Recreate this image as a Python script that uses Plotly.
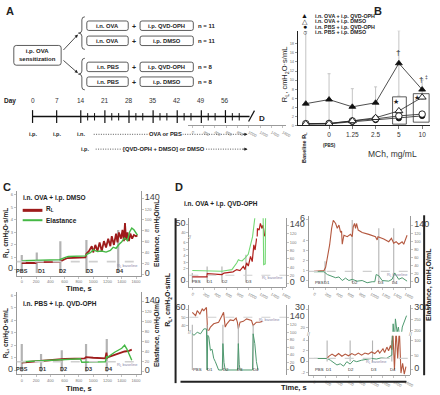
import plotly.graph_objects as go

W, H = 440, 395
FONT = "Arial, 'Liberation Sans', Helvetica, sans-serif"

# ---------------- Panel A data ----------------
group_left = ["i.n. OVA", "i.n. OVA", "i.n. PBS", "i.n. PBS"]
group_right = ["i.p. QVD-OPH", "i.p. DMSO", "i.p. QVD-OPH", "i.p. DMSO"]
group_n = ["n = 11", "n = 11", "n = 8", "n = 8"]
week_days = [0, 7, 14, 21, 28, 35, 42, 49, 56]
dose_days = [16, 18, 23, 25, 30, 32, 37, 39, 44, 46, 51, 53, 58, 60]
end_day = 63

# ---------------- Panel B data ----------------
mch_labels = ["Baseline", "0", "1.25", "2.5", "5", "10"]
ova_qvd = [4.8, 5.7, 4.1, 5.0, 13.7, 7.9]
ova_qvd_sd = [15.9, 5.7, 4.0, 3.5, 7.2, 2.1]
ova_dmso = [0.35, 0.4, 1.0, 1.7, 3.2, 6.2]
pbs_qvd = [0.3, 0.35, 0.8, 1.2, 1.6, 2.1]
pbs_dmso = [0.4, 0.45, 1.0, 1.45, 2.1, 2.5]
b_names = ["i.n. OVA + i.p. QVD-OPH", "i.n. OVA + i.p. DMSO",
           "i.n. PBS + i.p. QVD-OPH", "i.n. PBS + i.p. DMSO"]

dose_names = ["PBS", "D1", "D2", "D3", "D4"]

# ---------------- Panel C data ----------------
c1_t_rl = [0, 195, 205, 530, 600, 640, 890, 905, 940, 980, 1000, 1030, 1060, 1090, 1120, 1150, 1180, 1210,
           1240, 1260, 1290, 1320, 1340, 1360, 1390, 1410, 1430, 1445, 1460, 1480, 1500, 1520, 1545, 1570, 1600, 1620]
c1_rl = [0.55, 0.55, 0.62, 0.65, 0.85, 0.95, 1.0, 1.3, 1.5, 1.9, 1.4, 2.0, 1.5, 2.2, 1.5, 2.3, 1.8, 2.5,
         1.9, 2.7, 2.0, 2.9, 2.2, 3.0, 2.5, 3.2, 2.3, 3.75, 2.4, 3.0, 2.3, 2.9, 2.5, 2.8, 2.7, 2.75]
c1_t_el = [0, 195, 530, 600, 650, 890, 910, 960, 1000, 1060, 1120, 1180, 1240, 1280, 1320, 1360, 1400, 1440,
           1480, 1510, 1540, 1570, 1600, 1620]
c1_el = [25, 26, 27, 31, 33, 34, 37, 40, 45, 42, 43, 41, 44, 50, 48, 55, 60, 67, 62, 78, 85, 82, 75, 72]
c1_bar_t = [0, 210, 540, 905, 1350]
c1_bar_top = [1.2, 1.4, 2.3, 2.4, 3.2]
c1_baseline = 0.66
c1_label_t = [5, 270, 565, 955, 1375]

c2_t_rl = [0, 240, 260, 560, 600, 880, 900, 1000, 1100, 1170, 1185, 1195, 1210, 1280, 1350, 1440, 1500, 1540]
c2_rl = [0.62, 0.72, 0.78, 0.85, 0.9, 0.95, 1.05, 1.0, 0.98, 0.95, 1.4, 1.0, 1.05, 1.2, 1.35, 1.5, 1.55, 1.65]
c2_t_el = [0, 240, 560, 820, 840, 880, 1170, 1190, 1200, 1300, 1400, 1440, 1470, 1540]
c2_el = [19, 21, 24, 25, 18, 18, 19, 30, 28, 38, 46, 52, 45, 22]
c2_bar_t = [0, 270, 560, 900, 1190]
c2_bar_top = [2.1, 1.3, 1.6, 2.1, 2.5]
c2_baseline = 0.68
c2_label_t = [5, 290, 590, 930, 1215]

# ---------------- Panel D data ----------------
d1_t_rl = [0, 259, 265, 524, 560, 650, 720, 785, 843, 902, 930, 960, 990, 1030, 1060, 1088, 1110, 1134,
           1152, 1181, 1204, 1233, 1251, 1280]
d1_rl = [0.72, 0.72, 1.23, 1.08, 1.3, 1.4, 1.5, 1.85, 1.7, 2.35, 1.85, 2.9, 2.4, 3.9, 3.1, 5.7, 4.9, 6.5,
         45, 43, 50.8, 45, 48.9, 35.4]
d1_t_el = [0, 259, 524, 600, 700, 785, 815, 843, 880, 930, 989, 1030, 1065, 1105, 1134, 1250, 1262, 1290, 1297]
d1_el = [31.7, 30, 30, 32, 34, 50, 58, 56, 55, 62, 71, 94, 113, 158, 200, 200, 46, 48, 200]
d1_bar_t = [0, 262, 524, 948]
d1_bar_top = [1.3, 2.35, 2.35, 4.15]
d1_baseline = 0.97
d1_label_t = [70, 312, 573, 995]

d2_t_rl = [0, 175, 204, 234, 274, 309, 338, 379, 408, 437, 466, 483, 495, 524, 582, 640, 669, 687, 710, 728,
           745, 774, 844, 960, 1077, 1106, 1120, 1222, 1309, 1356, 1396, 1438, 1484, 1543, 1571, 1630]
d2_rl = [0.95, 1.02, 1.34, 2.25, 3.54, 5.17, 5.97, 5.65, 5.17, 5.49, 4.77, 4.9, 3.61, 4.5, 4.35, 4.58, 4.35,
         5.32, 5.65, 5.17, 5.65, 5.0, 4.77, 4.58, 4.35, 4.03, 4.35, 4.13, 3.86, 4.19, 3.71, 3.86, 3.61, 3.86,
         3.61, 4.5]
d2_t_el = [0, 175, 234, 320, 379, 437, 495, 553, 611, 669, 757, 844, 931, 1019, 1065, 1089, 1135, 1193, 1309,
           1367, 1414, 1443, 1484, 1543, 1630]
d2_el = [25, 25, 18, 14, 10, 12, 3, 9, 3, 6, 1.5, 3, -2.5, 0, 0, 18, 15, 3, 1.5, 6, 22, 15, 6, 10, 1.5]
d2_bar_t = [193, 669, 1135, 1396]
d2_bar_top = [1.94, 6.0, 5.17, 5.17]
d2_baseline = 0.95
d2_label_t = [100, 225, 715, 1165, 1418]

d3_t_rl = [0, 58, 87, 134, 175, 204, 250, 262, 273, 291, 320, 378, 465, 524, 553, 582, 611, 669, 727, 774,
           797, 814, 844, 902, 960, 1047, 1076, 1134, 1193, 1239]
d3_rl = [56, 52, 58, 54, 60, 58, 62, 40, 30, 34, 38, 42, 44, 52, 56, 38, 42, 46.7, 46, 49,
         44, 36, 44, 45, 48, 46, 40, 44, 44, 45]
d3_t_el = [0, 29, 87, 145, 204, 250, 262, 273, 291, 320, 349, 378, 407, 436, 465, 530, 541, 560, 582, 800,
           814, 830, 844, 1065, 1076, 1105, 1134, 1163]
d3_el = [96, 92, 100, 96, 109, 109, 0, 92, 88, 52, 55, 31, 22, 9, 0, 0, 70, 20, 0, 0,
         70, 15, 0, 0, 96, 70, 22, 0]
d3_bar_t = [0, 262, 541, 814, 1076]
d3_bar_top = [120, 120, 120, 120, 120]
d3_baseline = 50
d3_label_t = [90, 311, 588, 852, 1125]

d4_t_rl = [0, 230, 259, 316, 374, 431, 489, 547, 604, 662, 719, 777, 834, 892, 949, 1007, 1064, 1122, 1151,
           1208, 1237, 1277, 1306, 1340, 1363, 1380, 1409, 1437, 1466, 1495, 1523, 1552, 1581, 1610]
d4_rl = [0.6, 0.6, 1.0, 1.4, 1.0, 1.5, 1.0, 1.4, 1.1, 1.5, 1.2, 1.6, 1.2, 1.6, 1.4, 1.8, 1.5, 2.1, 1.6,
         2.4, 1.7, 2.7, 2.0, 3.0, 2.2, 6, -1.5, 6, 0.6, 6, -2.1, -0.3, -2.3, -0.9]
d4_t_el = [0, 230, 287, 345, 402, 460, 518, 575, 633, 690, 748, 834, 921, 1007, 1093, 1180, 1266, 1323, 1363,
           1386, 1409, 1426, 1455, 1478, 1512, 1546, 1581, 1621]
d4_el = [39, 39, 33, 25, 17, 21, 13, 28, 20, 32, 28, 33, 36, 39, 37, 41, 39, 45, 50,
         231, 150, 254, 192, 216, 140, 216, 239, 269]
d4_bar_t = [230, 633, 1025, 1363]
d4_bar_top = [3.9, 3.9, 3.9, 3.9]
d4_baseline = 0.6
d4_label_t = [100, 268, 655, 1043, 1386]

time_ticks = [0, 200, 400, 600, 800, 1000, 1200, 1400, 1600]

# ---------------- colours ----------------
RED_C, GREEN_C = "#9e1b1b", "#45b845"
RED_D1, GREEN_D1 = "#b0201c", "#74d874"
RED_D, GREEN_D = "#b4583f", "#4f9a70"
BAR = "#b3b3b3"
BASE = "#cfcfcf"
AXC = "#9a9a9a"


def X(p):
    return p / W


def Y(p):
    return 1 - p / H


def dxm(a, b):
    return [a / W, b / W]


def dym(top, bottom):
    return [1 - bottom / H, 1 - top / H]


fig = go.Figure()
shapes = []
ann = []


def A(text, x, y, size=6, xref="paper", yref="paper", color="#222", bold=False,
      xanchor="center", yanchor="middle", angle=0, bg=None):
    if bold:
        text = f"<b>{text}</b>"
    d = dict(text=text, x=x, y=y, xref=xref, yref=yref, showarrow=False,
             font=dict(size=size, color=color, family=FONT),
             xanchor=xanchor, yanchor=yanchor, textangle=angle, borderpad=0)
    if bg:
        d["bgcolor"] = bg
    ann.append(d)


def line(x, y, xa, ya, color, width, dash=None):
    fig.add_trace(go.Scatter(x=x, y=y, xaxis=xa, yaxis=ya, mode="lines",
                             line=dict(color=color, width=width, dash=dash),
                             showlegend=False, hoverinfo="skip", connectgaps=False))


def bars(ts, tops, bottom, xa, ya, width, color=BAR):
    xs, ys = [], []
    for t, tp in zip(ts, tops):
        xs += [t, t, None]
        ys += [bottom, tp, None]
    line(xs, ys, xa, ya, color, width)


def pline(x0, y0, x1, y1, color="#222", width=1, dash=None):
    shapes.append(dict(type="line", xref="paper", yref="paper", x0=X(x0), y0=Y(y0), x1=X(x1), y1=Y(y1),
                       line=dict(color=color, width=width, dash=dash)))


def rrect(x0, y0, x1, y1, r=2.5):
    def P(x, y):
        return f"{X(x):.5f},{Y(y):.5f}"
    path = (f"M {P(x0 + r, y0)} L {P(x1 - r, y0)} Q {P(x1, y0)} {P(x1, y0 + r)} L {P(x1, y1 - r)} "
            f"Q {P(x1, y1)} {P(x1 - r, y1)} L {P(x0 + r, y1)} Q {P(x0, y1)} {P(x0, y1 - r)} "
            f"L {P(x0, y0 + r)} Q {P(x0, y0)} {P(x0 + r, y0)} Z")
    shapes.append(dict(type="path", xref="paper", yref="paper", path=path,
                       line=dict(color="#333", width=0.8)))


def brace(x, ytop, ybot, tip=3.5):
    def P(a, b):
        return f"{X(a):.5f},{Y(b):.5f}"
    ym = (ytop + ybot) / 2
    path = (f"M {P(x + 3, ytop)} Q {P(x, ytop)} {P(x, ytop + 3)} L {P(x, ym - 3)} "
            f"Q {P(x, ym)} {P(x - tip, ym)} Q {P(x, ym)} {P(x, ym + 3)} L {P(x, ybot - 3)} "
            f"Q {P(x, ybot)} {P(x + 3, ybot)}")
    shapes.append(dict(type="path", xref="paper", yref="paper", path=path,
                       line=dict(color="#333", width=0.8)))


def arrow(x0, y0, x1, y1, width=0.8):
    ann.append(dict(x=X(x1), y=Y(y1), ax=x0 - x1, ay=y0 - y1, xref="paper", yref="paper",
                    axref="pixel", ayref="pixel", showarrow=True, arrowhead=2, arrowsize=0.8,
                    arrowwidth=width, arrowcolor="#222", text=" ", font=dict(size=1)))


def tt(vals, big=()):
    out = []
    for v in vals:
        s = str(v)
        if v in big:
            out.append(f'<span style="font-size:9px;color:#444">{s}</span>')
        else:
            out.append(s)
    return out


AXS = dict(showgrid=False, zeroline=False, showline=True, linecolor=AXC, linewidth=1,
           ticks="outside", ticklen=2, tickwidth=0.6, tickcolor=AXC,
           tickfont=dict(size=4, color="#777", family=FONT), fixedrange=True)

layout_axes = {}

# ================= Panel A =================
A("A", X(5), Y(8), size=11, bold=True, xanchor="left")
rrect(14, 43, 62, 63)
A("i.p. OVA<br>sensitization", X(38), Y(53), size=6, bold=True)
rows_y = [23, 38.3, 64.7, 79.7]
for yy, gl, gr, gn in zip(rows_y, group_left, group_right, group_n):
    rrect(88, yy - 4.8, 130, yy + 4.8, r=2)
    rrect(142, yy - 4.8, 196, yy + 4.8, r=2)
    A(gl, X(109), Y(yy), size=5.8, bold=True)
    A(gr, X(169), Y(yy), size=5.8, bold=True)
    A("+", X(136), Y(yy + 0.5), size=7, bold=True)
    A(gn, X(200), Y(yy), size=6, bold=True, xanchor="left")
brace(83, 14, 47)
brace(83, 56, 88)
arrow(63, 49, 79, 32)
arrow(63, 57, 79, 71)

# timeline on a day axis
layout_axes["xaxis2"] = dict(domain=[0, 1], range=[-9.45, 116.55], visible=False, anchor="y2", fixedrange=True)
layout_axes["yaxis2"] = dict(domain=[0, 1], range=[395, 0], visible=False, anchor="x2", fixedrange=True)
line([week_days[0], end_day], [115, 115], "x2", "y2", "#111", 1.4)
mx, my = [], []
for d in week_days:
    mx += [d, d, None]
    my += [108.5, 121.5, None]
line(mx, my, "x2", "y2", "#111", 1.2)
nx, ny = [], []
for d in dose_days:
    nx += [d, d, None]
    ny += [111.5, 119, None]
line(nx, ny, "x2", "y2", "#111", 1.0)
for d in week_days:
    A(str(d), d, Y(99), size=6.5, xref="x2", color="#333")
A("Day", X(10), Y(99), size=6.5, bold=True)
pline(252, 120, 258, 109, "#111", 1.2)
A("D", X(266), Y(117), size=8, bold=True)
A("i.p.", 0, Y(133), size=5.5, xref="x2", bold=True)
A("i.p.", 7, Y(133), size=5.5, xref="x2", bold=True)
A("i.n.", 14, Y(133), size=5.5, xref="x2", bold=True)
DOTS = "1px,1.4px"
pline(95, 133, 249, 133, "#333", 0.8, DOTS)
arrow(245, 133, 251, 133)
A("OVA or PBS", X(168), Y(133), size=5.8, bold=True, bg="white")
A("i.p.", X(86), Y(148), size=5.5, bold=True)
pline(97, 148, 249, 148, "#333", 0.8, DOTS)
arrow(245, 148, 251, 148)
A("[QVD-OPH + DMSO] or DMSO", X(166), Y(148), size=5.8, bold=True, bg="white")

# ================= Panel B =================
bx = list(range(len(mch_labels)))
layout_axes["xaxis"] = dict(AXS, domain=dxm(302, 436), range=[-0.34, 5.34], anchor="y",
                            linecolor="#222", tickcolor="#222", ticklen=2.5,
                            tickvals=bx[1:], ticktext=mch_labels[1:],
                            tickfont=dict(size=6.5, color="#333", family=FONT))
layout_axes["yaxis"] = dict(AXS, domain=dym(28, 124), range=[0, 20.9], anchor="x",
                            linecolor="#222", tickcolor="#555", tickvals=[0, 2, 4, 6, 8, 10, 12, 14, 16, 18],
                            tickfont=dict(size=4, color="#777"))
err_minus = [min(s, v - 0.2) for s, v in zip(ova_qvd_sd, ova_qvd)]
fig.add_trace(go.Scatter(x=bx, y=ova_qvd, mode="markers", marker=dict(size=1, color="rgba(0,0,0,0)"),
                         error_y=dict(type="data", symmetric=False, array=ova_qvd_sd, arrayminus=err_minus,
                                      color="#c4c4c4", thickness=1, width=1.5),
                         showlegend=False, hoverinfo="skip"))
series_b = [
    (pbs_qvd, dict(symbol="circle", size=5.5, color="#111", line=dict(color="#111", width=0.8))),
    (pbs_dmso, dict(symbol="circle", size=6.5, color="white", line=dict(color="#111", width=0.9))),
    (ova_dmso, dict(symbol="triangle-up", size=7, color="white", line=dict(color="#111", width=0.9))),
    (ova_qvd, dict(symbol="triangle-up", size=6, color="#111", line=dict(color="#111", width=0.8))),
]
for vals, mk in series_b:
    fig.add_trace(go.Scatter(x=bx, y=vals, mode="lines+markers", line=dict(color="#222", width=0.8),
                             marker=mk, showlegend=False, hoverinfo="skip"))
shapes.append(dict(type="rect", xref="x", yref="y", x0=3.73, x1=4.32, y0=0.28, y1=6.3,
                   line=dict(color="#333", width=0.8)))
shapes.append(dict(type="rect", xref="x", yref="y", x0=4.62, x1=5.3, y0=0.72, y1=7.0,
                   line=dict(color="#333", width=0.8)))
A("★", 3.86, 5.2, size=7, xref="x", yref="y", color="#222")
A("★", 4.78, 6.15, size=7, xref="x", yref="y", color="#222")
A("†", 3.98, 16.1, size=8, xref="x", yref="y", color="#222")
A("†", 4.94, 10.2, size=8, xref="x", yref="y", color="#222")
A("‡", 5.17, 10.7, size=5, xref="x", yref="y", color="#222")
A("B", X(383), Y(8), size=11, bold=True)
leg_sym = ["▲", "△", "●", "○"]
for i, (s, nm) in enumerate(zip(leg_sym, b_names)):
    yy = 12.7 + i * 5.6
    A(s, X(309), Y(yy), size=7, color="#111")
    A(nm, X(318), Y(yy), size=5.3, bold=True, xanchor="left")
A("R<sub>L</sub>, cmH<sub>2</sub>O·s/mL", X(289), Y(73), size=7.5, angle=-90, color="#222")
A("Baseline R<sub>L</sub>", X(308), Y(146), size=5.5, angle=-90, bold=True)
A("(PBS)", 1, Y(144), size=4.5, xref="x", bold=True)
A("MCh, mg/mL", X(398), Y(153), size=8.5, color="#333")

# ================= Panel C =================
A("C", X(7), Y(186), size=11, bold=True)
big_el = [0, 140]
el_ticks = [0, 20, 40, 60, 80, 100, 120, 140]
rl_ticks6 = [0, 1, 2, 3, 4, 5, 6]


def c_panel(xa, yl, yr, top, bottom, rl_rng, el_rng, t_rl, rl, t_el, el, bar_t, bar_top, base,
            label_t, label_y, base_lab_y, title, title_y, time_y):
    layout_axes["xaxis" + xa[1:]] = dict(AXS, domain=dxm(17, 143), range=[-70, 1670], anchor=yl,
                                         tickvals=time_ticks)
    layout_axes["yaxis" + yl[1:]] = dict(AXS, domain=dym(top, bottom), range=rl_rng, anchor=xa,
                                         tickvals=rl_ticks6, ticktext=tt(rl_ticks6, (0,)))
    layout_axes["yaxis" + yr[1:]] = dict(AXS, overlaying=yl, side="right", range=el_rng, anchor=xa,
                                         tickvals=el_ticks, ticktext=tt(el_ticks, big_el))
    shapes.append(dict(type="line", xref=xa + " domain", yref=yl, x0=0, x1=1, y0=base, y1=base,
                       line=dict(color=BASE, width=1.6, dash="dash")))
    bars(bar_t, bar_top, rl_rng[0] + 0.2, xa, yl, 2.2)
    line(t_el, el, xa, yr, GREEN_C, 1.4)
    line(t_rl, rl, xa, yl, RED_C, 1.8)
    for t, nm in zip(label_t, dose_names):
        A(nm, t, label_y, size=5.5, xref=xa, yref=yl, color="#333", bold=True)
    A("R<sub>L</sub> baseline", 1640, base_lab_y, size=4, xref=xa, yref=yl, color="#8a8aa8",
      xanchor="right")
    A(title, X(22), Y(title_y), size=6.5, bold=True, xanchor="left")
    A("Time, s", X(80), Y(time_y), size=7.5, bold=True)
    mid = (top + bottom) / 2
    A("R<sub>L</sub>, cmH<sub>2</sub>O·s/mL", X(6), Y(mid), size=6.5, bold=True, angle=-90)
    A("Elastance, cmH<sub>2</sub>O/mL", X(159), Y(mid), size=6.5, bold=True, angle=-90)


c_panel("x3", "y3", "y4", 190, 276, [-0.45, 6.35], [-2, 154], c1_t_rl, c1_rl, c1_t_el, c1_el,
        c1_bar_t, c1_bar_top, c1_baseline, c1_label_t, -0.05, 0.35, "i.n. OVA + i.p. DMSO", 197, 289)
c_panel("x4", "y5", "y6", 293, 376, [-0.32, 6.24], [-6, 158], c2_t_rl, c2_rl, c2_t_el, c2_el,
        c2_bar_t, c2_bar_top, c2_baseline, c2_label_t, 0.12, 0.45, "i.n. PBS + i.p. QVD-OPH", 305, 390)
# legend C
pline(23, 210, 43, 210, RED_C, 3)
A("R<sub>L</sub>", X(46), Y(209), size=6.5, bold=True, xanchor="left")
pline(23, 220, 43, 220, GREEN_C, 2)
A("Elastance", X(46), Y(220), size=6.5, bold=True, xanchor="left")

# ================= Panel D =================
A("D", X(181), Y(186), size=11, bold=True)
A("i.n. OVA + i.p. QVD-OPH", X(186), Y(203.5), size=6.5, bold=True, xanchor="left")
pline(178, 218, 178, 385, "#222", 2)
pline(430, 215, 430, 377, "#222", 2)
pline(183, 383.5, 412, 383.5, "#222", 2)
A("R<sub>L</sub>, cmH<sub>2</sub>O·s/mL", X(171), Y(300), size=7, bold=True, angle=-90)
A("Elastance, cmH<sub>2</sub>O/mL", X(435.5), Y(285), size=7, bold=True, angle=-90)
A("Time, s", X(298), Y(389), size=7.5, bold=True)

LEFT_X = dxm(192, 290)
RIGHT_X = dxm(313, 416)
XR_L = [-52, 1658]
XR_R = [-92, 1687]


def brk(px_, py_):
    A("//", X(px_), Y(py_), size=5, color="#777")


# D1 (top-left)
layout_axes["xaxis5"] = dict(AXS, domain=LEFT_X, range=XR_L, anchor="y7", tickvals=time_ticks)
layout_axes["yaxis7"] = dict(AXS, domain=dym(238.5, 288), range=[-0.92, 6.7], anchor="x5",
                             tickvals=[0, 2, 3, 4, 5, 6], ticktext=tt([0, 2, 3, 4, 5, 6], (0,)))
layout_axes["yaxis8"] = dict(AXS, domain=dym(218, 236.5), range=[35.6, 56.9], anchor="x5",
                             tickvals=[40, 50], ticktext=tt([40, 50], (50,)))
layout_axes["yaxis9"] = dict(AXS, domain=dym(218, 288), range=[-8.8, 158], anchor="x5", side="right",
                             tickvals=el_ticks, ticktext=tt(el_ticks, big_el))
shapes.append(dict(type="line", xref="x5 domain", yref="y7", x0=0, x1=1, y0=d1_baseline, y1=d1_baseline,
                   line=dict(color=BASE, width=1.2, dash="dash")))
bars(d1_bar_t, d1_bar_top, -0.15, "x5", "y7", 1.2)
line(d1_t_el, d1_el, "x5", "y9", GREEN_D1, 1.1)
line(d1_t_rl, d1_rl, "x5", "y7", RED_D1, 1.2)
line(d1_t_rl, d1_rl, "x5", "y8", RED_D1, 1.2)
for t, nm in zip(d1_label_t, dose_names[:4]):
    A(nm, t, -0.05, size=4.3, xref="x5", yref="y7", color="#333")
A("R<sub>L</sub> baseline", 1620, 0.57, size=4, xref="x5", yref="y7", color="#8a8aa8", xanchor="right")
brk(192, 237.5)

# D2 (top-right)
layout_axes["xaxis6"] = dict(AXS, domain=RIGHT_X, range=XR_R, anchor="y10", tickvals=time_ticks)
layout_axes["yaxis10"] = dict(AXS, domain=dym(216, 288), range=[-0.63, 6.36], anchor="x6",
                              tickvals=[0, 1, 2, 3, 4, 6], ticktext=tt([0, 1, 2, 3, 4, 6], (0, 6)))
layout_axes["yaxis11"] = dict(AXS, overlaying="y10", side="right", range=[-14.1, 164], anchor="x6",
                              tickvals=el_ticks, ticktext=tt(el_ticks, big_el))
shapes.append(dict(type="line", xref="x6 domain", yref="y10", x0=0, x1=1, y0=d2_baseline, y1=d2_baseline,
                   line=dict(color=BASE, width=1.2, dash="dash")))
bars(d2_bar_t, d2_bar_top, -0.17, "x6", "y10", 1.1)
line(d2_t_el, d2_el, "x6", "y11", GREEN_D, 1.0)
line(d2_t_rl, d2_rl, "x6", "y10", RED_D, 1.1)
for t, nm in zip(d2_label_t, dose_names):
    A(nm, t, -0.17, size=4.3, xref="x6", yref="y10", color="#333")
A("R<sub>L</sub> baseline", 1660, 0.63, size=4, xref="x6", yref="y10", color="#8a8aa8", xanchor="right")

# D3 (bottom-left)
layout_axes["xaxis7"] = dict(AXS, domain=LEFT_X, range=XR_L, anchor="y12", tickvals=time_ticks)
layout_axes["yaxis12"] = dict(AXS, domain=dym(335, 377), range=[-0.66, 4.6], anchor="x7",
                              tickvals=[0, 1, 2, 3, 4], ticktext=tt([0, 1, 2, 3, 4], (0,)))
layout_axes["yaxis13"] = dict(AXS, domain=dym(306, 332), range=[33.5, 64.8], anchor="x7",
                              tickvals=[40, 50, 60], ticktext=tt([40, 50, 60], (60,)))
layout_axes["yaxis14"] = dict(AXS, domain=dym(306, 377), range=[-13.9, 172], anchor="x7", side="right",
                              tickvals=el_ticks, ticktext=tt(el_ticks, big_el))
shapes.append(dict(type="line", xref="x7 domain", yref="y13", x0=0, x1=1, y0=d3_baseline, y1=d3_baseline,
                   line=dict(color=BASE, width=1.2, dash="dash")))
bars(d3_bar_t, d3_bar_top, 0, "x7", "y14", 1.1)
line(d3_t_el, d3_el, "x7", "y14", GREEN_D, 1.0)
line(d3_t_rl, d3_rl, "x7", "y13", RED_D, 1.1)
for t, nm in zip(d3_label_t, dose_names):
    A(nm, t, 2.6, size=4.3, xref="x7", yref="y14", color="#333")
A("R<sub>L</sub> baseline", 1560, 47, size=4, xref="x7", yref="y13", color="#8a8aa8", xanchor="right")
brk(192, 333.5)

# D4 (bottom-right)
layout_axes["xaxis8"] = dict(AXS, domain=RIGHT_X, range=XR_R, anchor="y15", tickvals=time_ticks)
layout_axes["yaxis15"] = dict(AXS, domain=dym(337, 377), range=[-2.5, 4.8], anchor="x8",
                              tickvals=[-2, 0, 2, 4], ticktext=tt([-2, 0, 2, 4], (0,)))
layout_axes["yaxis16"] = dict(AXS, domain=dym(306, 333), range=[17.4, 32.2], anchor="x8",
                              tickvals=[20, 30], ticktext=tt([20, 30], (30,)))
layout_axes["yaxis17"] = dict(AXS, domain=dym(337, 377), range=[-17.7, 115.7], anchor="x8", side="right",
                              tickvals=[0, 50, 100], ticktext=tt([0, 50, 100], (0,)))
layout_axes["yaxis18"] = dict(AXS, domain=dym(306, 333), range=[194, 318], anchor="x8", side="right",
                              tickvals=[200, 250, 300], ticktext=tt([200, 250, 300], (300,)))
shapes.append(dict(type="line", xref="x8 domain", yref="y15", x0=0, x1=1, y0=d4_baseline, y1=d4_baseline,
                   line=dict(color=BASE, width=1.2, dash="dash")))
bars(d4_bar_t, d4_bar_top, 0.05, "x8", "y15", 1.1)
line(d4_t_el, d4_el, "x8", "y17", GREEN_D, 1.0)
line(d4_t_el, d4_el, "x8", "y18", GREEN_D, 1.0)
line(d4_t_rl, d4_rl, "x8", "y15", RED_D, 1.1)
line(d4_t_rl, d4_rl, "x8", "y16", RED_D, 1.1)
for t, nm in zip(d4_label_t, dose_names):
    A(nm, t, -1.4, size=4.3, xref="x8", yref="y15", color="#333")
A("R<sub>L</sub> baseline", 1300, -0.1, size=4, xref="x8", yref="y15", color="#8a8aa8", xanchor="right")
brk(313, 335)
brk(416, 335)

fig.update_layout(
    width=W, height=H, autosize=False,
    margin=dict(l=0, r=0, t=0, b=0, pad=0),
    paper_bgcolor="white", plot_bgcolor="rgba(0,0,0,0)",
    font=dict(family=FONT, size=6, color="#222"),
    showlegend=False,
    shapes=shapes, annotations=ann,
    **layout_axes,
)
fig.write_html("out.html", config={"displayModeBar": False, "staticPlot": True},
               post_script="document.body.style.margin='0';document.body.style.padding='0';")
